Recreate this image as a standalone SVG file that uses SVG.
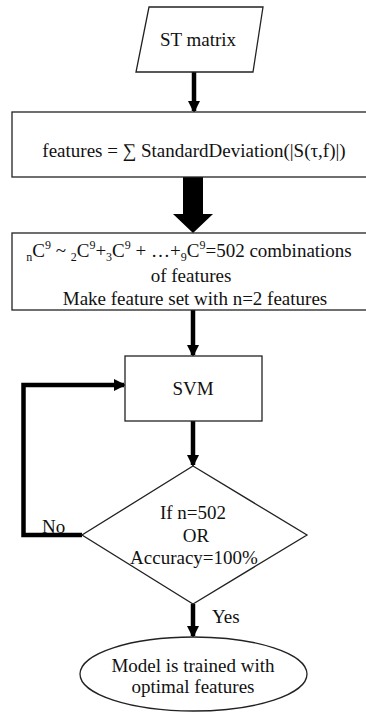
<svg xmlns="http://www.w3.org/2000/svg" width="366" height="713" viewBox="0 0 366 713">
<style>
.shape{fill:#fff;stroke:#222;stroke-width:1.3}
text{font-family:"Liberation Serif","Times New Roman",serif;font-size:19px;fill:#111}
.t{text-anchor:middle}
.sub{font-size:12px;baseline-shift:-4px}
.sup{font-size:12px;baseline-shift:8px}
.arr{fill:none;stroke:#000;stroke-width:4.5}
</style>
<defs>
<marker id="ah" markerUnits="userSpaceOnUse" markerWidth="12" markerHeight="14" refX="10" refY="6" orient="auto">
<path d="M0,0 L12,6 L0,12 Z" fill="#000"/>
</marker>
</defs>
<rect width="366" height="713" fill="#fff"/>
<g id="connectors">
<line class="arr" x1="194" y1="72" x2="194" y2="111" marker-end="url(#ah)"/>
<polygon points="183,177 203,177 203,214 213,214 193,233 173,214 183,214" fill="#000"/>
<line class="arr" x1="193" y1="310" x2="193" y2="355" marker-end="url(#ah)"/>
<line class="arr" x1="193" y1="421" x2="193" y2="465" marker-end="url(#ah)"/>
<line class="arr" x1="193" y1="604" x2="193" y2="636" marker-end="url(#ah)"/>
<path class="arr" d="M82,535 H23.5 V385 H124" marker-end="url(#ah)"/>
<text x="42" y="533">No</text>
<text x="212" y="623">Yes</text>
</g>
<g id="st-matrix">
<polygon class="shape" points="149,7 263,7 253,72 136,72"/>
<text class="t" x="198" y="46">ST matrix</text>
</g>
<g id="features">
<rect class="shape" x="12" y="112" width="360" height="65"/>
<text class="t" x="194" y="157" font-size="18.7">features = ∑ StandardDeviation(|S(τ,f)|)</text>
</g>
<g id="combinations">
<rect class="shape" x="12" y="233" width="360" height="77"/>
<text class="t" x="189" y="257"><tspan class="sub">n</tspan>C<tspan class="sup">9</tspan> ~ <tspan class="sub">2</tspan>C<tspan class="sup">9</tspan>+<tspan class="sub">3</tspan>C<tspan class="sup">9</tspan> + …+<tspan class="sub">9</tspan>C<tspan class="sup">9</tspan>=502 combinations</text>
<text class="t" x="191" y="282">of features</text>
<text class="t" x="195" y="305">Make feature set with n=2 features</text>
</g>
<g id="svm">
<rect class="shape" x="125" y="356" width="137" height="65"/>
<text class="t" x="193" y="395">SVM</text>
</g>
<g id="decision">
<polygon class="shape" points="193,466 307,535 193,604 82,535"/>
<text class="t" x="193" y="519">If n=502</text>
<text class="t" x="196" y="542">OR</text>
<text class="t" x="194" y="564">Accuracy=100%</text>
</g>
<g id="model">
<ellipse class="shape" cx="193.5" cy="674" rx="113.5" ry="37"/>
<text class="t" x="193" y="672">Model is trained with</text>
<text class="t" x="193" y="693">optimal features</text>
</g>
</svg>
